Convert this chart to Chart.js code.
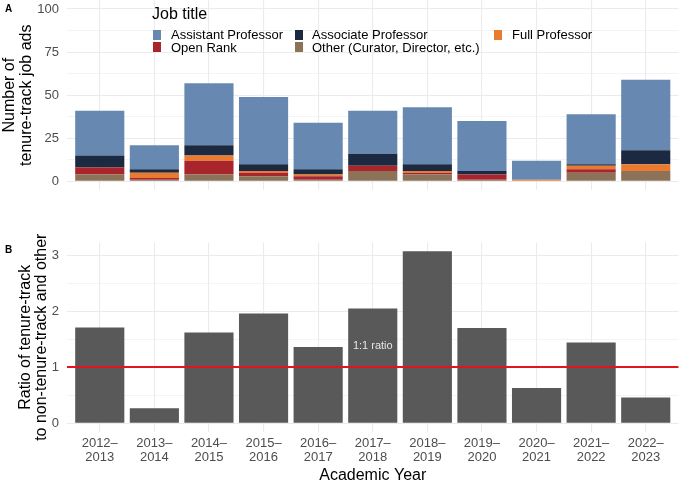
<!DOCTYPE html>
<html lang="en">
<head>
    <meta charset="UTF-8">
    <title>Tenure-track job ads</title>
    <style>
        body {
            margin: 0;
            background: #fff;
            font-family: 'Liberation Sans', Arial, sans-serif;
            overflow: hidden;
        }
        #wrap { position: relative; width: 680px; height: 483px; }
        canvas { position: absolute; left: 0; }
        #chartA { top: 0; }
        #chartB { top: 200px; }
        .tag { position: absolute; left: 5px; font-size: 10px; font-weight: bold; line-height: 10px; }
        #legend { position: absolute; left: 0; top: 0; width: 680px; height: 60px; pointer-events: none; }
        #legend .title { position: absolute; left: 152px; top: 5px; font-size: 16px; line-height: 17px; color: #000; }
        #legend .key { position: absolute; width: 8px; height: 10px; }
        #legend .lbl { position: absolute; font-size: 13px; line-height: 13px; white-space: nowrap; color: #000; }
    </style>
</head>
<body>
    <div id="wrap">
        <canvas id="chartA" width="680" height="200"></canvas>
        <canvas id="chartB" width="680" height="283"></canvas>
        <div class="tag" style="top:4px">A</div>
        <div class="tag" style="top:245px">B</div>
        <div id="legend"><div class="title">Job title</div></div>
    </div>

    <script src="https://cdn.jsdelivr.net/npm/chart.js"></script>
    <script>
        // academic years (x categories)
        const years = ['2012–2013', '2013–2014', '2014–2015', '2015–2016', '2016–2017', '2017–2018',
                       '2018–2019', '2019–2020', '2020–2021', '2021–2022', '2022–2023'];

        // panel A: tenure-track ads by job title
        const assistantProf = [26, 14, 36, 39, 27, 25, 33, 29, 11, 29, 41];
        const associateProf = [7, 2, 6, 4, 3, 7, 4, 2, 0, 1, 8];
        const fullProf      = [0, 3, 3, 1, 1, 0, 1, 0, 1, 2, 4];
        const openRank      = [4, 1, 8, 2, 2, 3, 1, 3, 0, 2, 0];
        const otherTitle    = [4, 1, 4, 3, 1, 6, 4, 1, 0, 5, 6];

        // panel B: ratio tenure-track / non-tenure-track and other
        const ratioValues = [1.71, 0.27, 1.62, 1.96, 1.36, 2.05, 3.07, 1.70, 0.63, 1.44, 0.46];

        const yTicksA = [0, 25, 50, 75, 100];
        const yTicksB = [0, 1, 2, 3];

        const grey = '#4d4d4d';
        const gridCol = '#ebebeb';
        Chart.defaults.font.family = "'Liberation Sans', Arial, sans-serif";

        // major ticks plus the midpoints between them (ggplot minor grid)
        function withMinor(major) {
            const out = [];
            major.forEach((v, i) => {
                out.push(v);
                if (i < major.length - 1) out.push((v + major[i + 1]) / 2);
            });
            return out;
        }

        function xScale(showLabels, h) {
            return {
                type: 'linear',
                min: -0.6,
                max: years.length - 0.4,
                offset: false,
                stacked: true,
                afterBuildTicks: s => { s.ticks = years.map((_, i) => ({ value: i })); },
                grid: { color: gridCol, lineWidth: 1.1, drawTicks: false, offset: false },
                border: { display: false },
                ticks: {
                    display: showLabels,
                    padding: 5,
                    color: grey,
                    autoSkip: false,
                    maxRotation: 0,
                    font: { size: 13, lineHeight: 1.077 },
                    callback: v => {
                        const p = years[v].split('–');
                        return [p[0] + '–', p[1]];
                    }
                },
                title: {
                    display: showLabels,
                    text: 'Academic Year',
                    color: '#000',
                    font: { size: 16, lineHeight: 0.9 },
                    padding: 0
                },
                afterFit: s => {
                    s.height = h;
                    s.paddingLeft = 0;
                    s.paddingRight = 0;
                }
            };
        }

        function yScale(major, min, max, title, lh, padTop) {
            return {
                min: min,
                max: max,
                stacked: true,
                afterBuildTicks: s => { s.ticks = withMinor(major).map(v => ({ value: v })); },
                ticks: {
                    color: grey,
                    padding: 8,
                    font: { size: 13 },
                    callback: v => major.includes(v) ? v : ''
                },
                grid: {
                    color: gridCol,
                    drawTicks: false,
                    lineWidth: c => major.includes(c.tick.value) ? 1.1 : 0.55
                },
                border: { display: false },
                title: {
                    display: true,
                    text: title,
                    color: '#000',
                    font: { size: 16, lineHeight: lh },
                    padding: { top: padTop, bottom: 0 }
                },
                afterFit: s => {
                    s.width = 67;
                    s.paddingTop = 0;
                    s.paddingBottom = 0;
                }
            };
        }

        const pts = arr => arr.map((v, i) => ({ x: i, y: v }));

        // stacked from the bottom up
        const seriesA = [
            { label: 'Other (Curator, Director, etc.)', data: otherTitle, color: '#8c7357' },
            { label: 'Open Rank', data: openRank, color: '#a8252b' },
            { label: 'Full Professor', data: fullProf, color: '#e97a30' },
            { label: 'Associate Professor', data: associateProf, color: '#1c2a41' },
            { label: 'Assistant Professor', data: assistantProf, color: '#6688b1' }
        ];

        new Chart(document.getElementById('chartA'), {
            type: 'bar',
            data: {
                datasets: seriesA.map(s => ({
                    label: s.label,
                    data: pts(s.data),
                    backgroundColor: s.color,
                    borderWidth: 0,
                    barPercentage: 0.9,
                    categoryPercentage: 1
                }))
            },
            options: {
                responsive: false,
                animation: false,
                layout: { padding: { top: 0.4, right: 1.5, bottom: 0, left: 0 } },
                plugins: { legend: { display: false }, tooltip: { enabled: false } },
                scales: {
                    x: xScale(false, 10),
                    y: yScale(yTicksA, -5, 105, ['Number of', 'tenure-track job ads'], 17.5 / 16, 0.7)
                }
            }
        });

        // red 1:1 reference line with its label
        const refLine = {
            id: 'refLine',
            afterDatasetsDraw(chart) {
                const { ctx, chartArea: a, scales: { x, y } } = chart;
                const py = Math.round(y.getPixelForValue(1));
                ctx.save();
                ctx.strokeStyle = '#e3141c';
                ctx.lineWidth = 2;
                ctx.beginPath();
                ctx.moveTo(a.left, py);
                ctx.lineTo(a.right, py);
                ctx.stroke();
                ctx.fillStyle = '#e6e6e6';
                ctx.font = "11px 'Liberation Sans', Arial, sans-serif";
                ctx.textAlign = 'center';
                ctx.textBaseline = 'middle';
                ctx.fillText('1:1 ratio', x.getPixelForValue(5), y.getPixelForValue(1.38));
                ctx.restore();
            }
        };

        new Chart(document.getElementById('chartB'), {
            type: 'bar',
            data: {
                datasets: [{
                    label: 'Ratio',
                    data: pts(ratioValues),
                    backgroundColor: '#595959',
                    borderWidth: 0,
                    barPercentage: 0.9,
                    categoryPercentage: 1
                }]
            },
            options: {
                responsive: false,
                animation: false,
                layout: { padding: { top: 42.6, right: 1.5, bottom: 0, left: 0 } },
                plugins: { legend: { display: false }, tooltip: { enabled: false } },
                scales: {
                    x: xScale(true, 51.1),
                    y: yScale(yTicksB, -0.154, 3.224, ['Ratio of tenure-track', 'to non-tenure-track and other'], 1, 17.2)
                }
            },
            plugins: [refLine]
        });

        // legend laid out in columns like the original
        const legendSpots = [
            { name: 'Assistant Professor', keyX: 153, txtX: 171, row: 0 },
            { name: 'Open Rank', keyX: 153, txtX: 171, row: 1 },
            { name: 'Associate Professor', keyX: 295, txtX: 312, row: 0 },
            { name: 'Other (Curator, Director, etc.)', keyX: 295, txtX: 312, row: 1 },
            { name: 'Full Professor', keyX: 494, txtX: 512, row: 0 }
        ];
        const legend = document.getElementById('legend');
        legendSpots.forEach(sp => {
            const s = seriesA.find(d => d.label === sp.name);
            const key = document.createElement('div');
            key.className = 'key';
            key.style.left = sp.keyX + 'px';
            key.style.top = (29.5 + sp.row * 12.8) + 'px';
            key.style.background = s.color;
            const lbl = document.createElement('div');
            lbl.className = 'lbl';
            lbl.style.left = sp.txtX + 'px';
            lbl.style.top = (28 + sp.row * 12.8) + 'px';
            lbl.textContent = sp.name;
            legend.appendChild(key);
            legend.appendChild(lbl);
        });
    </script>
</body>
</html>
